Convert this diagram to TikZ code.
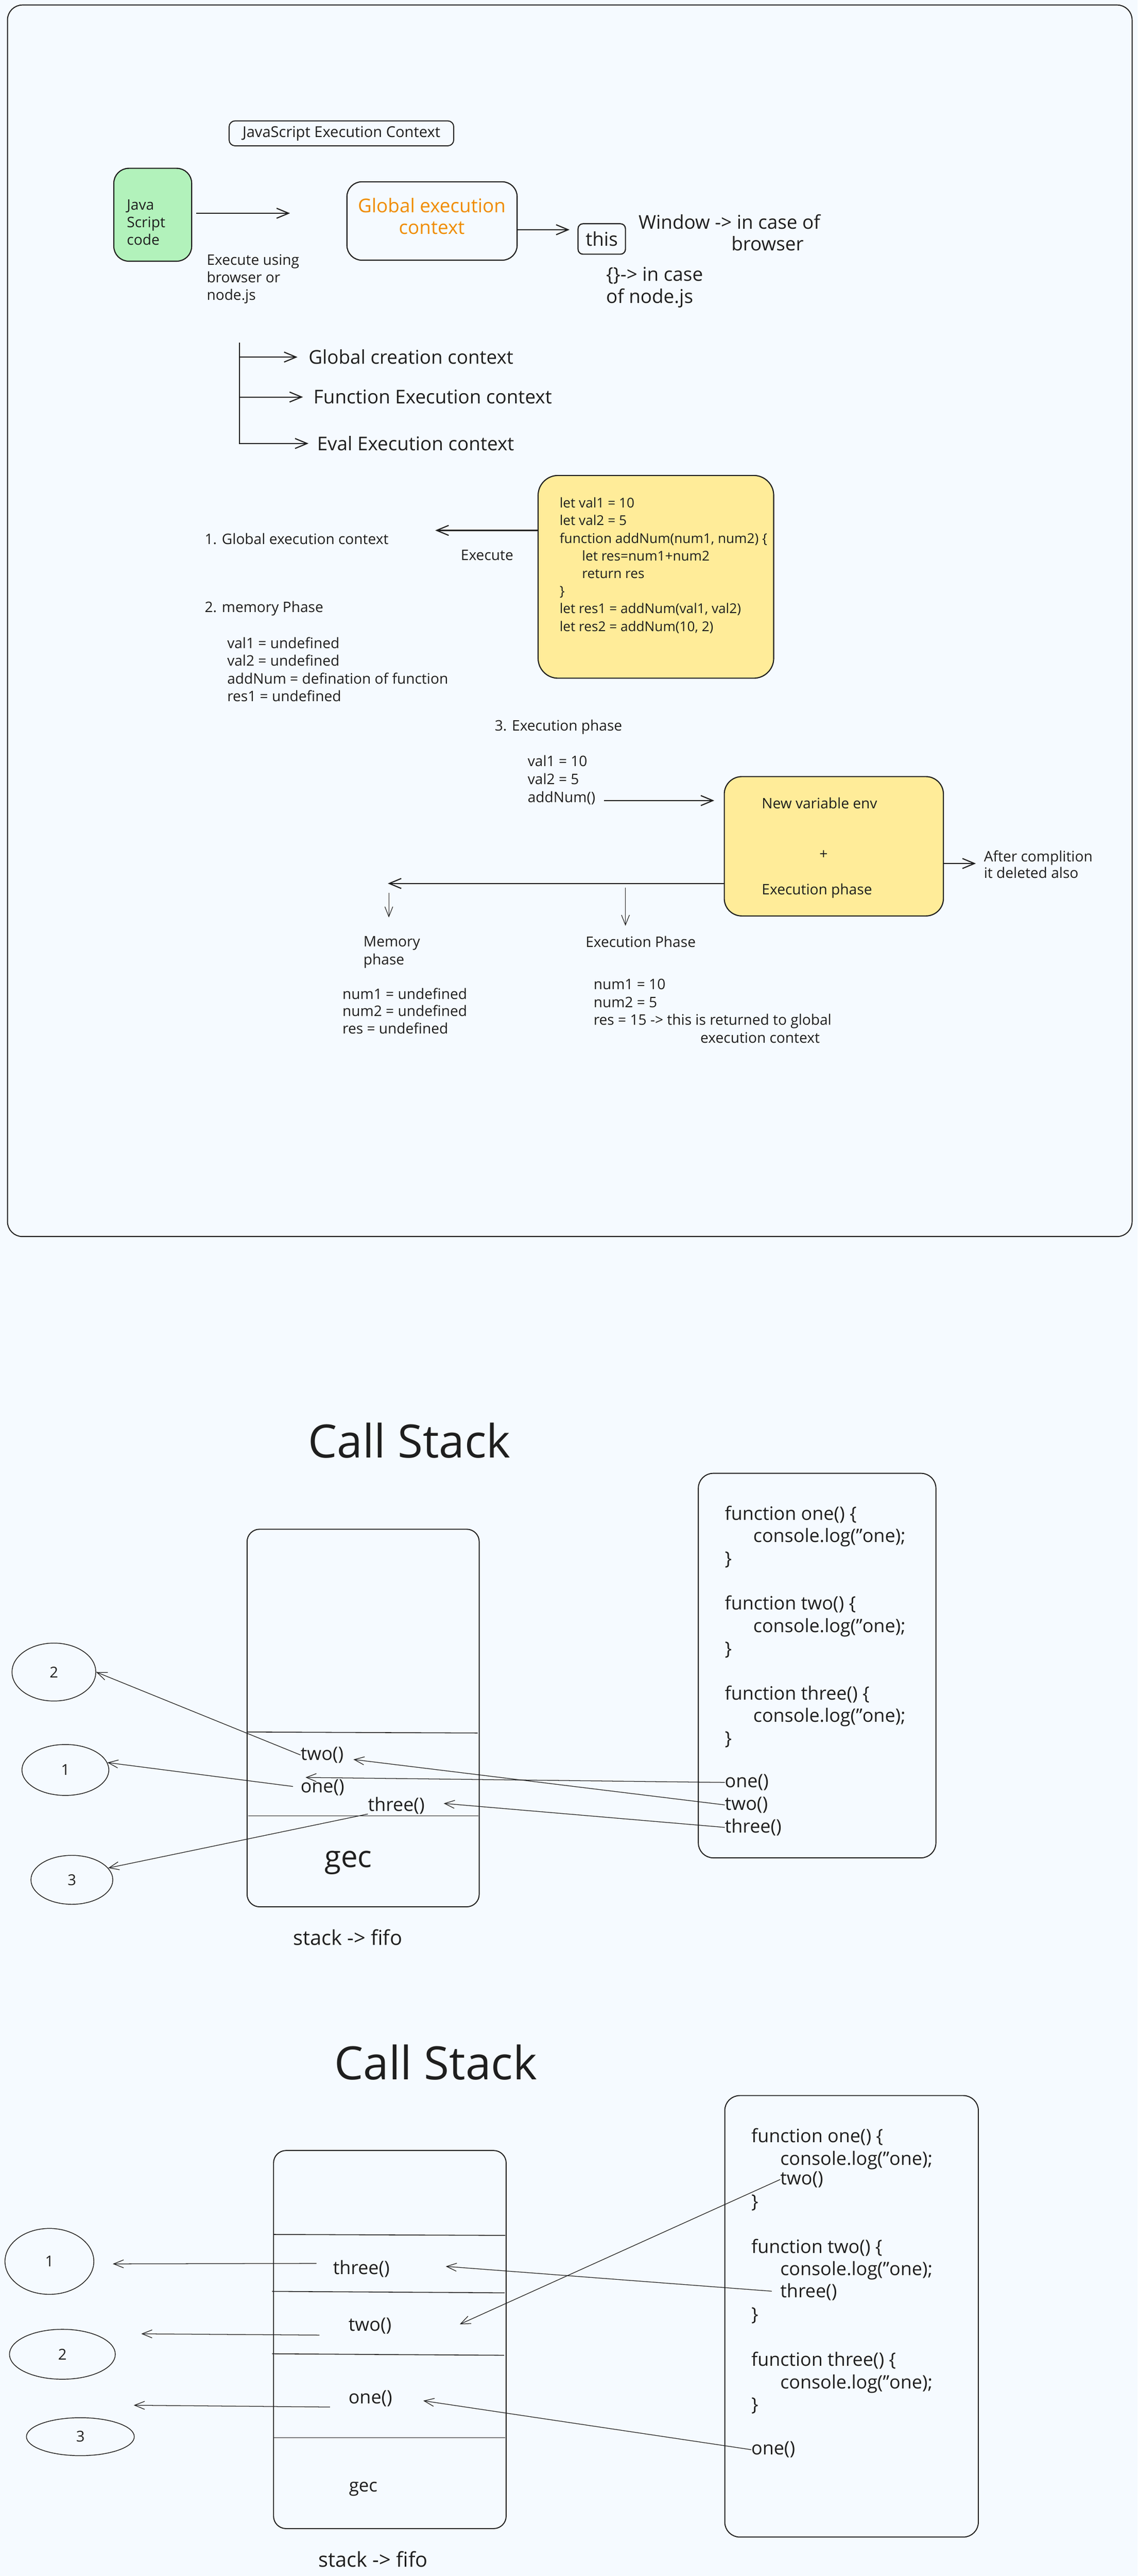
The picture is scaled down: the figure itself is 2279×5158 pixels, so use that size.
\documentclass[tikz,border=0pt]{standalone}
\usepackage{fontspec}
\setmainfont{Open Sans}
\usetikzlibrary{arrows.meta,shapes.geometric}
\definecolor{bg}{HTML}{F5FAFF}
\definecolor{ink}{HTML}{1E1E1E}
\definecolor{jsgreen}{HTML}{B2F2BB}
\definecolor{codeyel}{HTML}{FFEC99}
\definecolor{gecorange}{HTML}{F08C00}
\newcommand\fsz[2]{\fontsize{#1}{#2}\selectfont}
\tikzset{
  box/.style={rectangle, draw=ink, line width=2.2pt, rounded corners=#1, inner sep=0pt},
  box/.default=30pt,
  sm/.style={font=\fsz{29}{35.3}, text=ink, inner sep=0pt, align=left},
  cd/.style={font=\fsz{27}{35.3}, text=ink, inner sep=0pt, align=left},
  md/.style={font=\fsz{38}{44}, text=ink, inner sep=0pt, align=left},
  cs/.style={font=\fsz{37}{45.3}, text=ink, inner sep=0pt, align=left},
  circ/.style={ellipse, draw=ink, line width=1.5pt, inner sep=0pt, font=\fsz{30}{36}, text=ink},
  bigarr/.style={draw=ink, line width=2.2pt, -{Straight Barb[length=24pt,width=20pt]}},
  thinarr/.style={draw=ink, line width=1.3pt, -{Straight Barb[length=20pt,width=16pt]}},
  divider/.style={draw=ink, line width=1.6pt},
}
\begin{document}
\begin{tikzpicture}[x=1pt,y=-1pt]
\fill[bg] (0,0) rectangle (2279,5158);
\useasboundingbox (0,0) rectangle (2279,5158);

% ---------- frame ----------
\node[box, line width=2pt, minimum width=2253pt, minimum height=2466pt] (frame) at (1141.5,1243) {};

% ---------- top part ----------
\node[box=12pt, line width=2pt, minimum width=450pt, minimum height=50pt, font=\fsz{30}{36}, text=ink] (title) at (684,267) {JavaScript Execution Context};

\node[box, fill=jsgreen, minimum width=156pt, minimum height=186pt] (js) at (306,430) {};
\node[sm, anchor=north west] (jstext) at (254,399) {Java\\Script\\code};
\coordinate (a1end) at (581,427);
\draw[bigarr, shorten <=8pt] (js.east |- a1end) -- (a1end);
\node[sm, anchor=north west] (exec) at (414,509) {Execute using\\browser or\\node.js};

\node[box, minimum width=341pt, minimum height=157pt] (gec) at (865.5,442.5) {};
\node[md, text=gecorange, align=center, anchor=north] (gect) at (865,396) {Global execution\\context};
\coordinate (thisin) at (1141,460);
\draw[bigarr] (gec.east |- thisin) -- (thisin);
\node[box=10pt, minimum width=95pt, minimum height=61pt, font=\fsz{38}{44}, text=ink] (this) at (1205.5,478.5) {this};
\node[md, anchor=north west] (win) at (1279,429) {Window -> in case of\\\hspace*{186pt}browser};
\node[md, anchor=north west] (nodejs) at (1214,535) {\{\}-> in case\\of node.js};

\coordinate (tv1) at (480,686);
\coordinate (tv2) at (480,889);
\draw[ink, line width=1.8pt] (tv1) -- (tv2);
\node[md, anchor=west] (gcc) at (618,715) {Global creation context};
\node[md, anchor=west] (fec) at (628,795) {Function Execution context};
\node[md, anchor=west] (eec) at (635,888) {Eval Execution context};
\draw[bigarr, shorten >=22pt] (tv1 |- gcc.west) -- (gcc.west);
\draw[bigarr, shorten >=21pt] (tv1 |- fec.west) -- (fec.west);
\draw[bigarr, shorten >=17pt] (tv1 |- eec.west) -- (eec.west);

% ---------- code box ----------
\node[box=40pt, fill=codeyel, minimum width=472pt, minimum height=406pt] (code) at (1314,1155) {};
\node[cd, anchor=north west] (codetxt) at (1121,996) {let val1 = 10\\let val2 = 5\\function addNum(num1, num2) \{\\\hspace*{45pt}let res=num1+num2\\\hspace*{45pt}return res\\\}\\let res1 = addNum(val1, val2)\\let res2 = addNum(10, 2)};
\coordinate (e1) at (872,1062);
\draw[bigarr] (code.west |- e1) -- (e1);
\node[sm, anchor=west] (gl1) at (410,1079) {1. Global execution context};
\node[sm, anchor=west] (execl) at (923,1112) {Execute};
\node[sm, anchor=west] (mem) at (410,1219) {2. memory Phase};
\node[sm, anchor=north west] (memlist) at (455,1276) {val1 = undefined\\val2 = undefined\\addNum = defination of function\\res1 = undefined};
\node[sm, anchor=west] (ep3) at (991,1456) {3. Execution phase};
\node[sm, font=\fsz{29}{36}, anchor=north west] (eplist) at (1057,1512) {val1 = 10\\val2 = 5\\addNum()};

% ---------- function box ----------
\node[box=35pt, fill=codeyel, minimum width=439pt, minimum height=279pt] (fbox) at (1670.5,1694.5) {};
\node[sm, anchor=west] (nve) at (1526,1608) {New variable env};
\node[sm] (plus) at (1650,1712) {+};
\node[sm, anchor=west] (exph) at (1526,1784) {Execution phase};
\coordinate (a2s) at (1210,1603);
\draw[bigarr, shorten >=19pt] (a2s) -- (fbox.west |- a2s);
\coordinate (a3e) at (1955,1729);
\draw[bigarr] (fbox.east |- a3e) -- (a3e);
\node[sm, font=\fsz{29}{33}, anchor=north west] (after) at (1971,1703) {After complition\\it deleted also};
\coordinate (a4e) at (777,1769);
\draw[bigarr] (fbox.west |- a4e) -- (a4e);

\node[sm, anchor=north west] (memph) at (728,1875) {Memory\\phase};
\node[sm, anchor=west] (ephase) at (1173,1886) {Execution Phase};
\coordinate (d1s) at (779,1788);
\coordinate (d2s) at (1253,1777);
\draw[thinarr, line width=1.2pt, shorten >=38pt] (d1s) -- (memph.north -| d1s);
\draw[thinarr, line width=1.2pt, shorten >=21pt] (d2s) -- (ephase.north -| d2s);
\node[sm, font=\fsz{29}{34.5}, anchor=north west] (memvals) at (686,1978) {num1 = undefined\\num2 = undefined\\res = undefined};
\node[sm, font=\fsz{29}{35.7}, anchor=north west] (exvals) at (1189,1960) {num1 = 10\\num2 = 5\\res = 15 -> this is returned to global\\\hspace*{214pt}execution context};

% ---------- call stack 1 ----------
\node[font=\fsz{92}{100}, text=ink, inner sep=0pt] (cs1title) at (820,2884) {Call Stack};
\node[box=25pt, line width=2pt, minimum width=465pt, minimum height=756pt] (stk1) at (727.5,3440) {};
\draw[divider] (494,3468) -- (957,3470);
\draw[divider] (497,3636) -- (958,3636);
\node[cs, anchor=west] (s1two) at (602,3514) {two()};
\node[cs, anchor=west] (s1one) at (602,3579) {one()};
\node[cs, anchor=west] (s1three) at (737,3615) {three()};
\node[font=\fsz{60}{70}, text=ink, inner sep=0pt, anchor=west] (gec1) at (650,3730) {gec};
\node[font=\fsz{41}{48}, text=ink, inner sep=0pt, anchor=west] (fifo1) at (587,3879) {stack -> fifo};

\node[box=30pt, line width=2pt, minimum width=476pt, minimum height=770pt] (cb1) at (1637,3335) {};
\node[cs, font=\fsz{37}{45}, anchor=north west] (cb1txt) at (1452,3015) {function one() \{\\\hspace*{57pt}console.log("one);\\\}\\[45pt]function two() \{\\\hspace*{57pt}console.log("one);\\\}\\[45pt]function three() \{\\\hspace*{57pt}console.log("one);\\\}};
\node[cs, anchor=west] (cs1one) at (1452,3569) {one()};
\node[cs, anchor=west] (cs1two) at (1452,3614) {two()};
\node[cs, anchor=west] (cs1three) at (1452,3659) {three()};

\node[circ, minimum width=168pt, minimum height=116pt] (s1c2) at (108,3348) {2};
\node[circ, minimum width=174pt, minimum height=102pt] (s1c1) at (131,3544) {1};
\node[circ, minimum width=164pt, minimum height=98pt] (s1c3) at (144,3764) {3};

\draw[thinarr] (s1two.west) -- (s1c2.east);
\draw[thinarr, shorten <=15pt] (s1one.west) -- (s1c1.10);
\draw[thinarr] (s1three.south west) -- (s1c3.18);
\coordinate (t1one) at (612,3559);
\coordinate (t1two) at (708,3523);
\coordinate (t1three) at (889,3611);
\draw[thinarr] (cs1one.west) -- (t1one);
\draw[thinarr] (cs1two.west) -- (t1two);
\draw[thinarr] (cs1three.west) -- (t1three);

% ---------- call stack 2 ----------
\node[font=\fsz{92}{100}, text=ink, inner sep=0pt] (cs2title) at (873,4129) {Call Stack};
\node[box=25pt, line width=2pt, minimum width=466pt, minimum height=757pt] (stk2) at (781,4684.5) {};
\draw[divider] (548,4474) -- (1012,4476);
\draw[divider] (545,4588) -- (1011,4591);
\draw[divider] (545,4713) -- (1010,4716);
\draw[divider] (548,4881) -- (1012,4881);
\node[cs, anchor=west] (s2three) at (667,4543) {three()};
\node[cs, anchor=west] (s2two) at (698,4657) {two()};
\node[cs, anchor=west] (s2one) at (698,4803) {one()};
\node[font=\fsz{36}{42}, text=ink, inner sep=0pt, anchor=west] (gec2) at (699,4984) {gec};
\node[font=\fsz{41}{48}, text=ink, inner sep=0pt, anchor=west] (fifo2) at (638,5124) {stack -> fifo};

\node[box=30pt, line width=2pt, minimum width=508pt, minimum height=884pt] (cb2) at (1706,4638) {};
\node[cs, anchor=north west] (f1) at (1505,4261) {function one() \{\\\hspace*{58pt}console.log("one);};
\node[cs, anchor=west] (k2) at (1563,4364) {two()};
\node[cs, anchor=north west] (f2) at (1505,4394) {\}\\[45.3pt]function two() \{\\\hspace*{58pt}console.log("one);};
\node[cs, anchor=west] (k3) at (1563,4589) {three()};
\node[cs, anchor=north west] (f3) at (1505,4620) {\}\\[45.3pt]function three() \{\\\hspace*{58pt}console.log("one);\\\}};
\node[cs, anchor=west] (k1) at (1505,4905) {one()};

\node[circ, minimum width=178pt, minimum height=132pt] (s2c1) at (99,4528) {1};
\node[circ, minimum width=212pt, minimum height=100pt] (s2c2) at (125,4714) {2};
\node[circ, minimum width=216pt, minimum height=76pt] (s2c3) at (161,4879) {3};

\coordinate (t21) at (226,4533);
\coordinate (t22) at (283,4673);
\coordinate (t23) at (268,4816);
\draw[thinarr, shorten <=33pt] ([yshift=11pt]s2three.west) -- (t21);
\draw[thinarr, shorten <=58pt] ([yshift=-19pt]s2two.west) -- (t22);
\draw[thinarr, shorten <=37pt] ([yshift=-17pt]s2one.west) -- (t23);
\coordinate (t2two) at (921,4654);
\coordinate (t2three) at (893,4538);
\coordinate (t2one) at (848,4807);
\draw[thinarr] (k2.west) -- (t2two);
\draw[thinarr, shorten <=17pt] (k3.west) -- (t2three);
\draw[thinarr] (k1.west) -- (t2one);
\end{tikzpicture}
\end{document}
